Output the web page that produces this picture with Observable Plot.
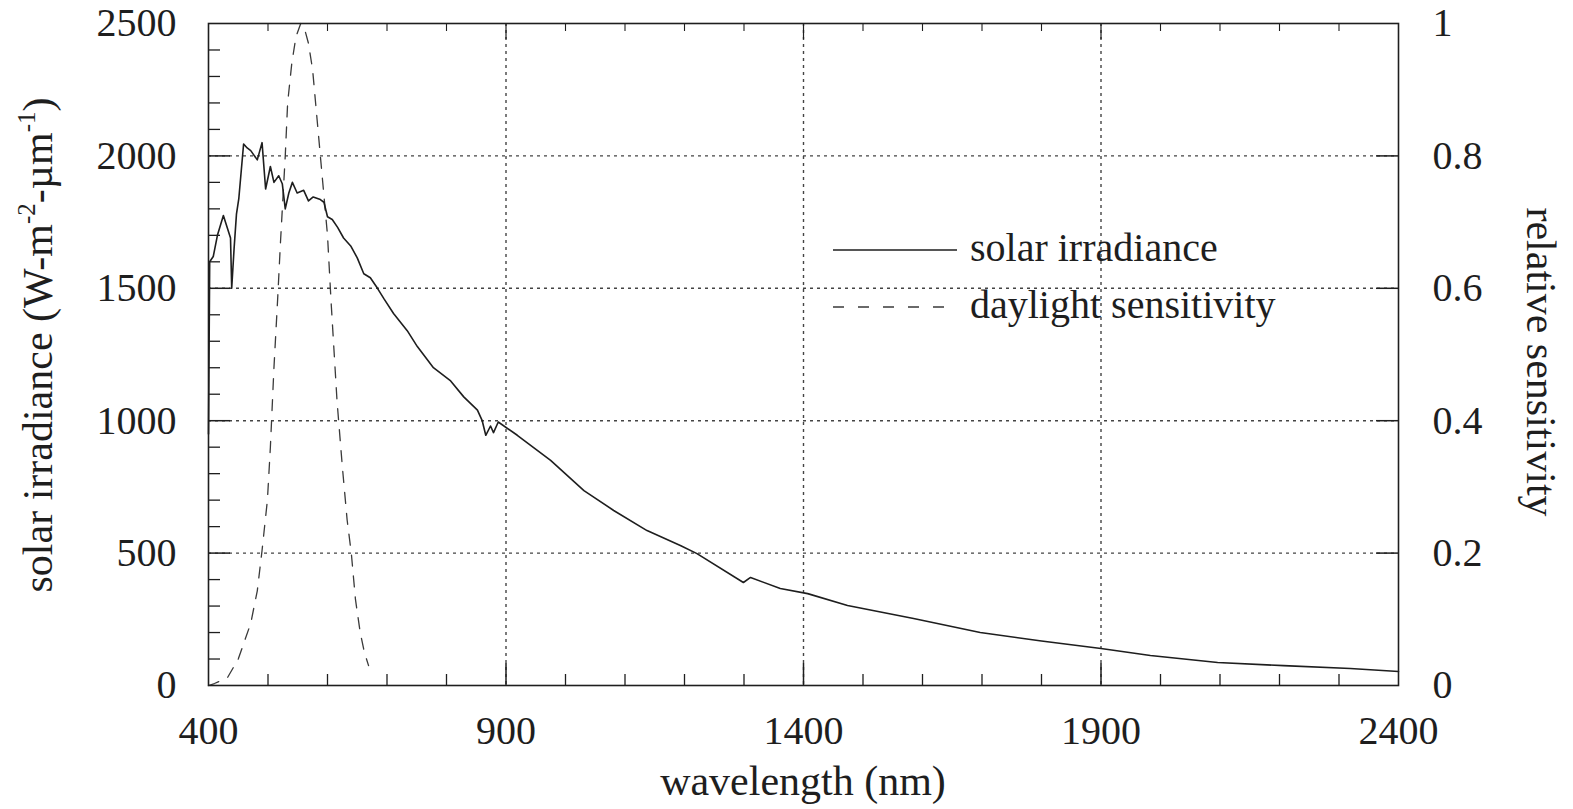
<!DOCTYPE html>
<html><head><meta charset="utf-8">
<script src="https://cdn.jsdelivr.net/npm/d3@7"></script>
<script src="https://cdn.jsdelivr.net/npm/@observablehq/plot@0.6"></script>
<style>
html,body{margin:0;padding:0;background:#fff;}
#chart{width:1573px;height:809px;}
#chart svg{overflow:visible;display:block}
</style></head><body><div id="chart"></div>
<script>
// ---- data ----
const irrWl = [400,402,408,415,425,437,439,443,447,451,459,465,471,482,490,496,504,510,518,524,529,535,541,549,560,568,576,588,594,600,608,617,627,639,650,661,672,684,695,711,734,751,778,807,829,852,860,866,874,879,887,919,975,1031,1081,1137,1193,1221,1299,1311,1361,1407,1474,1585,1697,1800,1900,1983,2096,2207,2319,2400];
const irrVal = [950,1600,1620,1700,1775,1690,1500,1650,1780,1840,2045,2030,2020,1985,2050,1875,1960,1900,1925,1895,1800,1860,1900,1860,1870,1830,1845,1835,1825,1770,1760,1730,1690,1660,1615,1555,1540,1500,1460,1405,1340,1280,1200,1150,1090,1040,1000,945,980,955,995,945,850,736,661,585,529,498,389,408,366,347,302,253,200,168,140,113,87,75,64,53];
const sensWl = [400,410,432,450,471,482,490,499,504,510,516,521,529,533,540,547,555,562,568,575,580,585,590,594,600,606,616,625,633,640,647,655,662,669];
const sensVal = [0,0.003,0.012,0.04,0.094,0.143,0.204,0.28,0.36,0.48,0.58,0.67,0.80,0.88,0.94,0.98,1.0,0.99,0.97,0.93,0.88,0.83,0.78,0.74,0.68,0.58,0.43,0.33,0.25,0.20,0.13,0.08,0.05,0.03];

const xTicks = [400,900,1400,1900,2400];
const yTicks = [0,500,1000,1500,2000,2500];
const rightTickLabels = ["0","0.2","0.4","0.6","0.8","1"];
const xGrid = [900,1400,1900];
const yGrid = [500,1000,1500,2000];
const xMinor = [500,600,700,800,1000,1100,1200,1300,1500,1600,1700,1800,2000,2100,2200,2300];
const yMinor = d3.range(100, 2500, 100).filter(v => v % 500 !== 0);
const seriesNames = ["solar irradiance","daylight sensitivity"];
const xTitle = "wavelength (nm)";
const rightTitle = "relative sensitivity";
const SENS_FULL = 2500; // relative sensitivity 1 sits at irradiance 2500

// ---- build ----
const irr = irrWl.map((w,i)=>({w, v: irrVal[i]}));
const sens = sensWl.map((w,i)=>({w, s: sensVal[i]}));
const W=1573, H=809, mL=208, mR=175, mT=23, mB=124;
const font = "'Liberation Serif','Times New Roman',serif";
const ux = 2000/(W-mL-mR);   // data units per pixel along x
const uy = 2500/(H-mT-mB);   // data units per pixel along y
const ink = "#1e1e1e";

const plot = Plot.plot({
  width: W, height: H,
  marginLeft: mL, marginRight: mR, marginTop: mT, marginBottom: mB,
  x: {domain: [400, 2400]},
  y: {domain: [0, 2500]},
  style: {fontFamily: font, fontSize: "40px", color: ink, background: "#fff"},
  marks: [
    Plot.ruleY(yGrid, {stroke: "#444", strokeDasharray: "3,4", strokeWidth: 1.4}),
    Plot.ruleX(xGrid, {stroke: "#444", strokeDasharray: "3,4", strokeWidth: 1.4}),
    // tick marks (inward)
    Plot.ruleY(yMinor, {x1: 400, x2: 400 + 12*ux, stroke: ink, strokeWidth: 1.3}),
    Plot.ruleY(yGrid, {x1: 400, x2: 400 + 22*ux, stroke: ink, strokeWidth: 1.5}),
    Plot.ruleY(yGrid, {x1: 2400 - 22*ux, x2: 2400, stroke: ink, strokeWidth: 1.5}),
    Plot.ruleX(xMinor, {y1: 0, y2: 11*uy, stroke: ink, strokeWidth: 1.3}),
    Plot.ruleX(xGrid, {y1: 0, y2: 22*uy, stroke: ink, strokeWidth: 1.5}),
    Plot.ruleX(xMinor, {y1: 2500 - 8*uy, y2: 2500, stroke: ink, strokeWidth: 1.1}),
    Plot.ruleX(xGrid, {y1: 2500 - 16*uy, y2: 2500, stroke: ink, strokeWidth: 1.2}),
    // series
    Plot.line(sens, {x: "w", y: d => d.s * SENS_FULL, stroke: "#3a3a3a", strokeWidth: 1.3, strokeDasharray: "11,10"}),
    Plot.line(irr, {x: "w", y: "v", stroke: ink, strokeWidth: 1.6}),
    Plot.frame({stroke: ink, strokeWidth: 1.6}),
    // axes (labels only)
    Plot.axisX(xTicks, {anchor: "bottom", tickSize: 0, tickPadding: 30, label: null, fontSize: 40, tickFormat: d => String(d)}),
    Plot.axisY(yTicks, {anchor: "left", tickSize: 0, tickPadding: 32, label: null, fontSize: 40, tickFormat: d => String(d)}),
    Plot.axisY(yTicks, {anchor: "right", tickSize: 0, tickPadding: 34, label: null, fontSize: 40,
      tickFormat: d => rightTickLabels[yTicks.indexOf(d)]})
  ]
});
document.getElementById("chart").appendChild(plot);

// ---- titles and legend ----
const svg = d3.select(plot);
const g = svg.append("g").attr("font-family", font).attr("fill", ink);

// x title
g.append("text").attr("x", (mL + W - mR)/2).attr("y", 795)
  .attr("text-anchor", "middle").attr("font-size", 42).text(xTitle);

// left title with superscripts
const lt = g.append("text").attr("transform", "translate(52,345) rotate(-90)")
  .attr("text-anchor", "middle").attr("font-size", 42);
lt.append("tspan").text("solar irradiance (W-m");
lt.append("tspan").attr("font-size", 25).attr("dy", -17).text("-2");
lt.append("tspan").attr("dy", 17).text("-\u00b5m");
lt.append("tspan").attr("font-size", 25).attr("dy", -17).text("-1");
lt.append("tspan").attr("dy", 17).text(")");

// right title
g.append("text").attr("transform", "translate(1527,362) rotate(90)")
  .attr("text-anchor", "middle").attr("font-size", 42).text(rightTitle);

// legend
const leg = [
  {name: seriesNames[0], dash: null, base: 261},
  {name: seriesNames[1], dash: "11,14", base: 318}
];
leg.forEach(L => {
  g.append("line").attr("x1", 833).attr("x2", 957).attr("y1", L.base - 11).attr("y2", L.base - 11)
    .attr("stroke", L.dash ? "#3a3a3a" : ink).attr("stroke-width", L.dash ? 1.3 : 1.6)
    .attr("stroke-dasharray", L.dash);
  g.append("text").attr("x", 970).attr("y", L.base).attr("text-anchor", "start")
    .attr("font-size", 40).text(L.name);
});
</script>
</body></html>
